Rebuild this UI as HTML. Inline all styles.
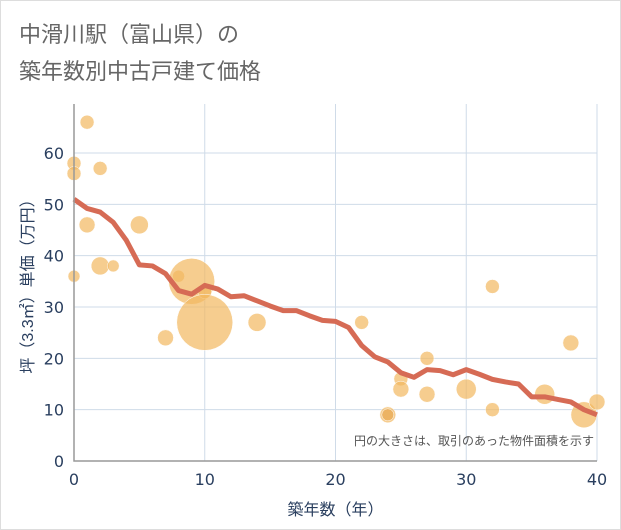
<!DOCTYPE html>
<html><head><meta charset="utf-8"><style>
body{margin:0;background:#fff}
#wrap{position:relative;width:619px;height:528px;border:1px solid #ddd;font-family:"Liberation Sans","Noto Sans CJK JP",sans-serif}
</style></head><body>
<div id="wrap">
<svg id="svg" width="619" height="528" style="position:absolute;left:0;top:0">
<text x="18" y="41" font-size="22" fill="#666" font-family="Liberation Sans, Noto Sans CJK JP, sans-serif">中滑川駅（富山県）の</text>
<text x="18" y="78" font-size="22" fill="#666" font-family="Liberation Sans, Noto Sans CJK JP, sans-serif">築年数別中古戸建て価格</text>
<g id="grid"></g><g id="bubbles"></g><g id="line"></g><g id="axes"></g>
</svg>
</div>
<script>
const trendYears=[0,1,2,3,4,5,6,7,8,9,10,11,12,13,14,15,16,17,18,19,20,21,22,23,24,25,26,27,28,29,30,31,32,33,34,35,36,37,38,39,40];
const trendPrices=[51,49.2,48.5,46.5,43,38.2,38,36.5,33.2,32.5,34.2,33.5,32,32.2,31.2,30.2,29.3,29.3,28.3,27.4,27.2,26,22.5,20.3,19.3,17.2,16.3,17.8,17.6,16.8,17.8,16.9,15.9,15.4,15,12.5,12.5,12,11.5,10,9];
const bubbleX=[0,0,1,2,0,1,2,3,5,7,8,9,10,10,14,22,24,25,25,27,27,30,32,32,36,38,39,40,24];
const bubbleY=[58,56,66,57,36,46,38,38,46,24,36,35,33,27,27,27,9,16,14,20,13,14,34,10,13,23,9,11.5,9];
const bubbleR=[7,7,7,7,6,8,9,6,9,8,6,23,7,28,9,7,8,7,8,7,8,10,7,7,10,8,13,8,6];
const xTicks=[0,10,20,30,40];
const yTicks=[0,10,20,30,40,50,60];
const L=73,R=596,T=103,B=460;
const xs=v=>L+(v/40)*(R-L);
const ys=v=>B-v*(B-152)/60;
const NS="http://www.w3.org/2000/svg";
const TF='DejaVu Sans, Liberation Sans, sans-serif';
function mk(tag,attrs,parent){const e=document.createElementNS(NS,tag);for(const k in attrs)e.setAttribute(k,attrs[k]);document.getElementById(parent).appendChild(e);return e;}
xTicks.forEach(t=>{const e=mk('line',{x1:xs(t),x2:xs(t),y1:T,y2:B,stroke:'#cfdbe8','stroke-width':1},'grid');


const tx=mk('text',{x:xs(t),y:B+24,'font-size':16,fill:'#2a3f5f','text-anchor':'middle','font-family':TF},'axes');tx.textContent=t;

});
yTicks.forEach(t=>{const e=mk('line',{x1:L,x2:R,y1:ys(t),y2:ys(t),stroke:'#cfdbe8','stroke-width':1},'grid');


const tx=mk('text',{x:L-10,y:ys(t)+6,'font-size':16,fill:'#2a3f5f','text-anchor':'end','font-family':TF},'axes');tx.textContent=t;

});
bubbleX.forEach((x,i)=>{const c=mk('circle',{cx:xs(x),cy:ys(bubbleY[i]),r:bubbleR[i],fill:i==28?'#e8a850':'#f2b860','fill-opacity':0.7,stroke:'#fff','stroke-width':0.5},'bubbles');

});
const p=mk('polyline',{points:trendYears.map((x,i)=>xs(x)+','+ys(trendPrices[i])).join(' '),fill:'none',stroke:'#d66b55','stroke-width':5,'stroke-linejoin':'round'},'line');


const ax=mk('path',{d:`M${L},${T} V${B} H${R}`,fill:'none',stroke:'#999','stroke-width':1.5},'axes');


const xt=mk('text',{x:(L+R)/2,y:514,'font-size':16,fill:'#2a3f5f','text-anchor':'middle'},'axes');xt.textContent='築年数（年）';


const yt=mk('text',{x:0,y:0,'font-size':16,fill:'#2a3f5f','text-anchor':'middle',transform:`translate(32,${(T+B)/2}) rotate(-90)`},'axes');yt.textContent='坪（3.3㎡）単価（万円）';


const nt=mk('text',{x:R-3,y:444,'font-size':12,fill:'#555','text-anchor':'end'},'axes');nt.textContent='円の大きさは、取引のあった物件面積を示す';


</script>
</body></html>
